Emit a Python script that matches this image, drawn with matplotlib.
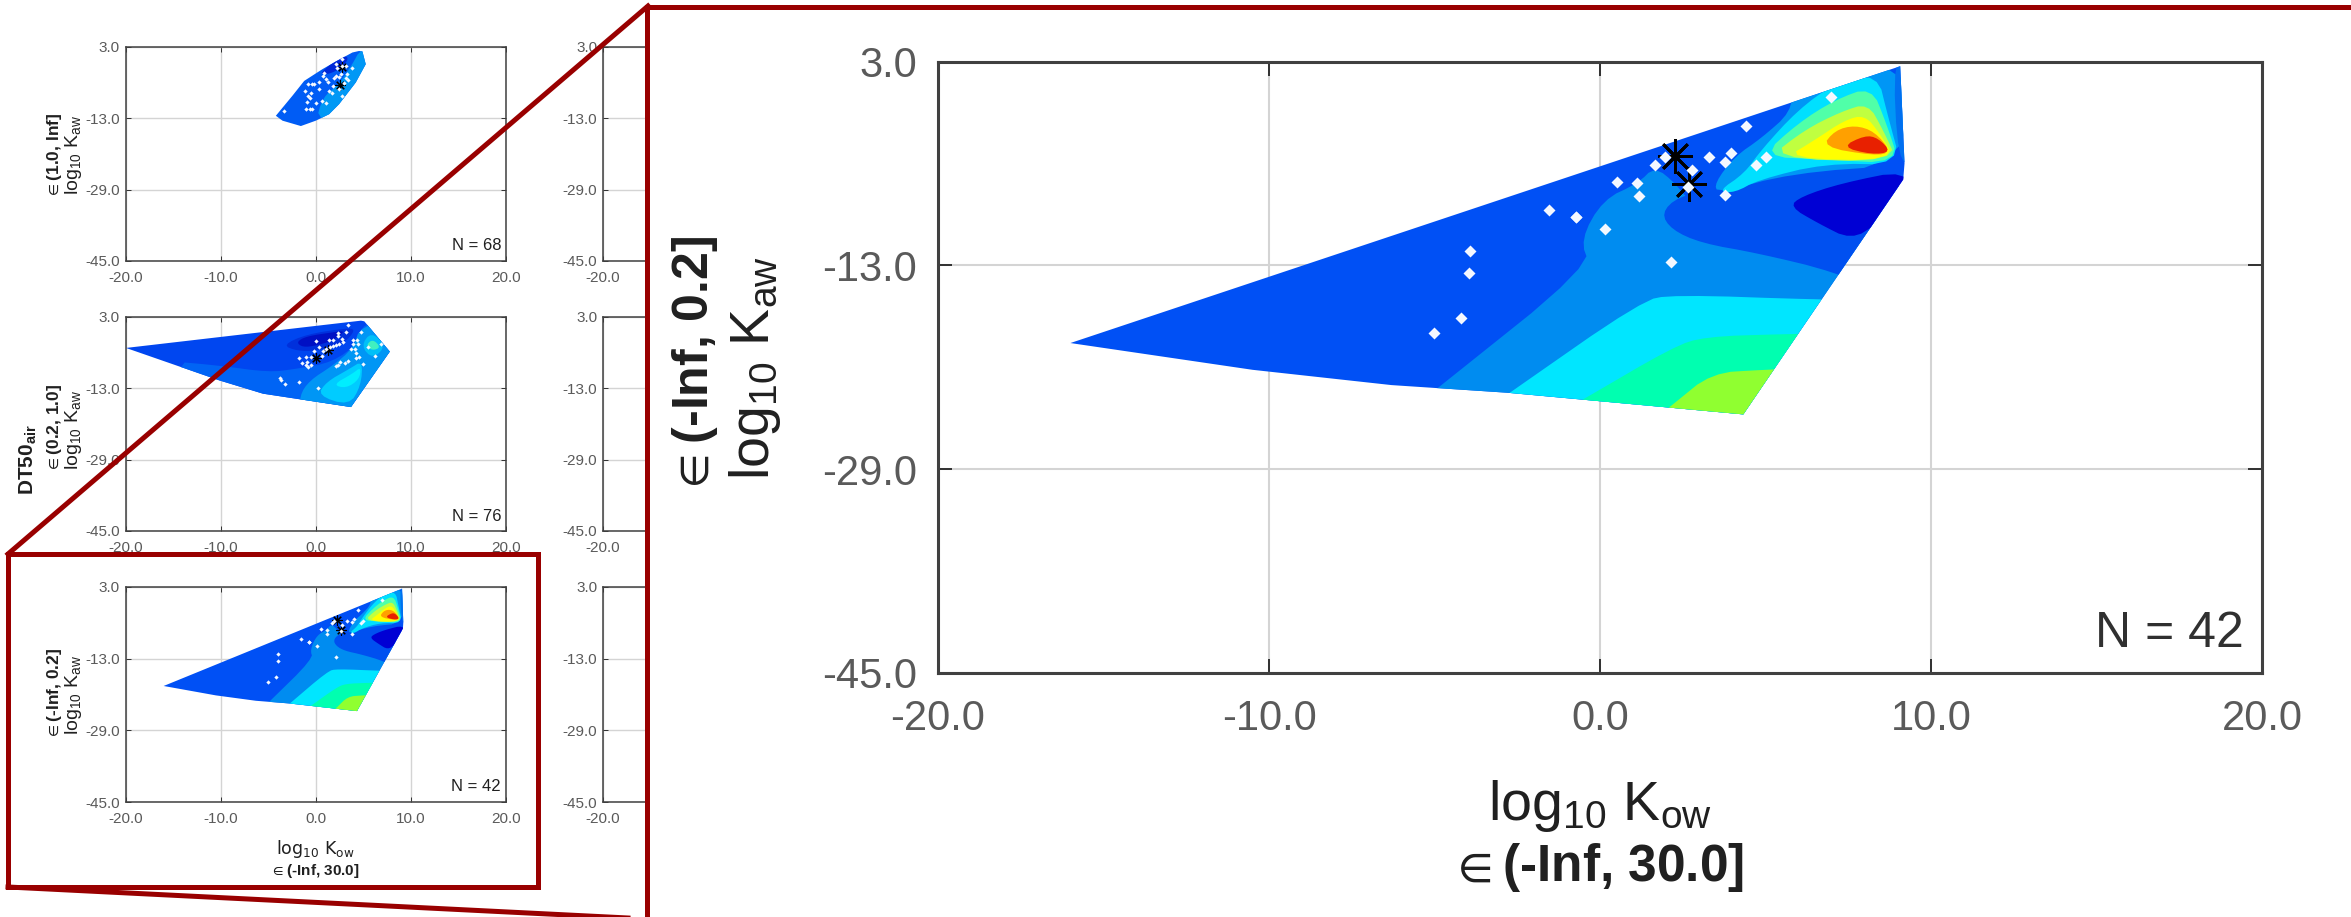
#!/usr/bin/env python3
"""Zoomed panel figure: log Kow / log Kaw space maps, DT50 air classes."""
import matplotlib
matplotlib.use("Agg")
import matplotlib.pyplot as plt
from matplotlib.lines import Line2D
from matplotlib.patches import Polygon, Rectangle

W, H = 2351, 917
RED = "#990000"

plt.rcParams["mathtext.fontset"] = "custom"
plt.rcParams["mathtext.rm"] = "Liberation Sans"
plt.rcParams["mathtext.bf"] = "Liberation Sans:bold"
plt.rcParams["mathtext.default"] = "regular"

X_TICKS = [-20, -10, 0, 10, 20]
Y_TICKS = [3, -13, -29, -45]
X_LABEL = r"log$_{10}$ K$_{ow}$"
Y_LABEL = r"log$_{10}$ K$_{aw}$"

# --- top panel, eps (1.0, Inf]
P1_OUTER = [(3.85, 1.66), (4.55, 2.0), (4.9, 1.9), (5.25, -0.96), (4.2, -5.06), (2.45, -9.9),
            (1.4, -12.15), (0, -13.6), (-1.57, -14.8), (-3.5, -13.6), (-4.2, -12.5),
            (-2.45, -8.0), (-1.22, -4.7), (0.7, -2.07), (2.1, -0.36)]
P1_LIGHT = [(0, -14), (0.7, -8.4), (2.45, -5.4), (3.85, -0.96), (4.72, 2.5), (7, 2.5), (7, -14)]
P1_DARK = [(0.35, -3.2), (1.75, -0.58), (2.8, 0.9), (3.5, 0.54), (2.8, -1.7), (1.4, -3.2)]
P1_BANDS = [P1_LIGHT, P1_DARK]
P1_COLORS = ["#0098F5", "#0028D8"]
P1_BASE = "#005CF5"
P1_KOW = [-3.32, -1.05, -0.6, -0.35, 0, -0.9, -0.63, -0.87, -1.12, -0.52, -0.77, -0.42, -0.24,
          0.35, 0.35, 0.7, 1.05, 0.8, 0.87, 1.05, 1.33, 1.4, 1.75, 1.92, 2.1, 1.82, 2.45, 2.62,
          2.17, 2.2, 2.73, 2.8, 3.2, 2.97, 3.32, 3.43, 2.8, 3.85, 3.15, 2.45]
P1_KAW = [-11.4, -11.03, -10.9, -11.03, -9.69, -9.39, -8.57, -8.04, -6.93, -7.5, -5.43, -5.28,
          -5.43, -6.55, -4.84, -9.16, -9.69, -3.57, -2.82, -4.31, -4.84, -6.93, -7.3, -3.94,
          -3.57, -5.8, -3.79, -3.19, -0.96, -1.85, 0.16, -1.33, -1.33, -5.06, -3.19, -4.54,
          -8.04, -1.85, -4.09, -6.55]
P1_STAR_KOW = [2.59, 2.8]
P1_STAR_KAW = [-5.66, -1.55]

# --- middle panel, eps (0.2, 1.0]
P2_OUTER = [(-19.96, -3.94), (4.75, 2.18), (5.1, 2.03), (7.78, -4.76), (3.7, -17.2),
            (-5.55, -14.2), (-10.1, -11.25)]
P2_MID = [(-16, -6.78), (-10.1, -7.9), (-4.96, -9.4), (-2.06, -8.64), (1.78, -7.15), (4.57, -2.67),
          (4.92, 1.8), (9, 2), (9, -20), (-5.5, -30)]
P2_LIGHT = [(-1.71, -14.6), (-0.66, -11.25), (1.78, -7.9), (3.87, -4.16), (4.75, 1.2), (9, 2),
            (9, -20), (-1.7, -20)]
P2_CYAN = [(0.2, -14.6), (1.08, -11.6), (3.53, -8.64), (4.92, -6.78), (4.75, -12.4), (3.5, -16.9)]
P2_CORE = [(1.78, -12.2), (3.87, -9.7), (4.75, -8.2), (4.57, -11), (3.18, -13)]
P2_RIGHT = [(4.75, -3.5), (5.82, -0.3), (7.4, -3.5), (5.97, -6.4)]
P2_GREEN = [(5.27, -3.42), (5.97, -1.93), (6.84, -3.79), (5.97, -4.54)]
P2_SHADE = [(-3.5, -3.3), (-1.01, -0.9), (3.18, 0.5), (4.2, 0.2), (3.0, -2.9), (0.03, -4.6),
            (-2.0, -4.6)]
P2_DARK = [(-2.06, -2.67), (-1.01, -1.33), (1.78, -0.43), (3.18, -0.06), (1.78, -2.3), (0.03, -3.42),
           (-1.36, -3.79)]
P2_BANDS = [P2_MID, P2_LIGHT, P2_CYAN, P2_CORE, P2_RIGHT, P2_GREEN, P2_SHADE, P2_DARK]
P2_COLORS = ["#0064F5", "#0096F5", "#00CCFF", "#00EEFF", "#00C0F8", "#40F0C0", "#0030DC", "#0010C4"]
P2_BASE = "#0046F0"
P2_KOW = [3.35, 4.75, 2.3, 3.18, 2.3, 1.78, 1.36, 2.76, 2.9, 2.48, 2.13, 1.78, 1.5, 1.08, 0.73,
          0.03, 0.38, -0.21, 0.66, 3.87, 4.29, 3.87, 4.4, 3.7, 4.15, 4.22, 5.45, 6.84, 6.25, 4.57,
          4.22, 5.0, 3.35, 3.1, 2.55, 2.3, 2.13, -0.49, -1.01, -1.78, -1.47, -0.94, -0.49, -0.84,
          -1.01, -3.8, -3.7, -3.28, -1.78, 0.21]
P2_KAW = [1.21, -0.43, -0.58, -0.43, -1.33, -2.07, -2.07, -1.93, -2.67, -3.04, -3.27, -3.57, -3.79,
          -4.16, -4.54, -2.3, -3.79, -4.69, -5.66, -2.07, -2.07, -3.04, -3.04, -4.16, -4.16, -5.06,
          -3.79, -3.04, -5.66, -6.03, -6.25, -7.52, -6.78, -7.37, -7.15, -7.75, -7.9, -6.03, -6.03,
          -6.18, -7.37, -7.15, -7.67, -8.27, -7.75, -10.66, -11.1, -12.0, -11.6, -12.9]
P2_STAR_KOW = [0, 1.33]
P2_STAR_KAW = [-6.18, -4.39]

# --- bottom panel (also the enlarged one), eps (-Inf, 0.2]
P3_OUTER = [(-16.0, -19.1), (9.07, 2.63), (9.2, -5.0), (9.16, -6.27), (4.33, -24.7), (-2.8, -23.0),
            (-6.3, -22.4), (-10.5, -21.2)]
P3_B1 = [(-7.5, -28), (-5.03, -22.9), (-0.3, -13.07), (-0.59, -10.98), (0.09, -7.84), (1.15, -6.56),
         (1.65, -5.25), (2.3, -6.6), (3.0, -9.0), (10, -8), (10, -30), (-7.5, -30)]
P3_CYAN = [(-5.8, -28.6), (-2.81, -23.15), (1.25, -15.8), (2.21, -15.3), (6.65, -15.7), (10, -15.8),
           (10, -30), (-5.8, -30)]
P3_MINT = [(-3.5, -28), (-0.49, -23.5), (2.21, -19.4), (3.17, -18.6), (5.49, -18.4), (8, -18.3),
           (8, -30), (-3.5, -30)]
P3_LIME = [(0.5, -27.5), (2.21, -23.9), (3.37, -21.45), (4.91, -21.2), (7, -21.0), (7, -30),
           (0.5, -30)]
P3_BLOB = [(1.85, -8.9), (2.36, -7.6), (3.46, -7.08), (5.78, -5.77), (9.4, -5.1), (9.4, -16),
           (7.09, -13.5), (4.77, -12.05), (3.06, -11.26), (2.16, -10.2)]
P3_DARK = [(5.73, -8.39), (6.08, -7.6), (7.29, -6.56), (9.3, -5.5), (9.3, -8), (8.4, -9.7),
           (7.59, -11), (6.59, -9.7)]
P3_UPPER = [(5.78, -0.94), (4.87, -3.03), (4.07, -4.46), (3.46, -6.55), (3.56, -7.34), (5.78, -5.77),
            (9.3, -5.1), (9.3, 3.5), (5.78, 1)]
P3_EDGE = [(8.85, 3.5), (9.5, 3.5), (9.5, -4.9), (9.0, -4.9)]
P3_HOT1 = [(3.56, -7.2), (4.37, -5.77), (4.87, -3.94), (5.98, -0.8), (7.09, 1.29), (8.38, 2.07),
           (8.7, -1.3), (9.1, -5.1), (6.79, -5.0), (4.77, -6.3), (4.07, -7.3)]
P3_HOT2 = [(4.87, -4.46), (5.98, -1.85), (7.09, -0.02), (8.2, 1.03), (8.65, -1.85), (9.05, -5.0),
           (6.79, -4.7)]
P3_HOT3 = [(5.08, -4.6), (6.18, -2.37), (7.29, -0.93), (8.1, -0.28), (8.55, -2.37), (9.0, -4.9)]
P3_HOT4 = [(5.58, -4.6), (6.49, -3.16), (7.39, -1.6), (8.0, -1.2), (8.45, -2.63), (8.95, -4.8)]
P3_HOT5 = [(6.7, -3.7), (7.1, -2.4), (7.7, -2.0), (8.3, -2.5), (8.8, -4.1), (8.3, -4.4)]
P3_HOT6 = [(7.3, -3.7), (8.0, -2.8), (8.4, -3.0), (8.8, -4.1), (8.2, -4.3)]
P3_BANDS = [P3_B1, P3_CYAN, P3_MINT, P3_LIME, P3_BLOB, P3_DARK, P3_UPPER, P3_EDGE, P3_HOT1, P3_HOT2,
            P3_HOT3, P3_HOT4, P3_HOT5, P3_HOT6]
P3_COLORS = ["#008CF0", "#00E6FF", "#00FFB0", "#90FF30", "#0050F0", "#0000D4", "#0096F5", "#0070F0",
             "#00E0FF", "#50FFA8", "#C0FF40", "#FFFF00", "#FFA000", "#E82000"]
P3_BASE = "#0050F5"
P3_KOW = [6.99, 4.40, 3.97, 3.77, 3.28, 2.79, 5.0, 4.72, 2.66, 3.77, 1.95, 1.67, 0.51, 1.13, 1.18,
          -0.72, 0.14, 2.16, -1.55, -0.74, -3.93, -3.95, -4.2, -5.03]
P3_KAW = [0.19, -2.03, -4.2, -4.86, -4.52, -5.51, -4.52, -5.12, -6.82, -7.47, -4.52, -5.12, -6.48,
          -6.56, -7.55, -9.22, -10.14, -12.7, -8.68, -9.2, -11.9, -13.6, -17.1, -18.3]
P3_STAR_KOW = [2.26, 2.68]
P3_STAR_KAW = [-4.41, -6.64]


def fx(px):
    return px / W


def fy(py):
    return 1 - py / H


def round_corners(verts, passes=2):
    """Chaikin corner cutting, the contour bands have soft corners."""
    for _ in range(passes):
        out = []
        for i, (x0, y0) in enumerate(verts):
            x1, y1 = verts[(i + 1) % len(verts)]
            out.append((0.75 * x0 + 0.25 * x1, 0.75 * y0 + 0.25 * y1))
            out.append((0.25 * x0 + 0.75 * x1, 0.25 * y0 + 0.75 * y1))
        verts = out
    return verts


def add_axes(fig, left, right, top, bottom, z, x_labels=None):
    ax = fig.add_axes([fx(left), fy(bottom), (right - left) / W, (bottom - top) / H])
    ax.set_zorder(z)
    ax.set_xlim(-20, 20)
    ax.set_ylim(-45, 3)
    ax.set_xticks(X_TICKS)
    ax.set_yticks(Y_TICKS)
    ax.set_xticklabels(x_labels or [f"{v:.1f}" for v in X_TICKS])
    ax.set_yticklabels([f"{v:.1f}" for v in Y_TICKS])
    ax.set_axisbelow(True)
    return ax


def style_axes(ax, big):
    tick_font = ["Liberation Sans"] if big else ["Liberation Sans Narrow", "Liberation Sans"]
    ax.grid(True, color="#d4d4d4", lw=1.5 if big else 1.0)
    ax.tick_params(direction="in", top=True, right=True, color="#303030",
                   length=10 if big else 3.5, width=1.4 if big else 0.7,
                   labelcolor="#5a5a5a", labelsize=30 if big else 11)
    ax.tick_params(axis="x", pad=19 if big else 7)
    ax.tick_params(axis="y", pad=15 if big else 4)
    for lab in ax.get_xticklabels() + ax.get_yticklabels():
        lab.set_family(tick_font)
    for s in ax.spines.values():
        s.set_color("#404040")
        s.set_linewidth(2.2 if big else 1.1)


def draw_map(ax, outer, base, bands, colors, kow, kaw, star_kow, star_kaw, big):
    shape = Polygon(outer, closed=True, fc=base, ec="none", zorder=2)
    ax.add_patch(shape)
    for verts, c in zip(bands, colors):
        p = Polygon(round_corners(verts), closed=True, fc=c, ec="none", zorder=2.1)
        ax.add_patch(p)
        p.set_clip_path(shape)
    ax.plot(star_kow, star_kaw, ls="none", marker=(8, 2, 0), color="black",
            ms=25 if big else 7.5, mew=2.0 if big else 0.8, zorder=3)
    ax.plot(kow, kaw, ls="none", marker="D", color="#f4f8ff", mec="none",
            ms=6 if big else 2.2, zorder=4)


def panel_text(fig, x, y, s, size, family="Liberation Sans", bold=False, rot=0, z=4):
    fig.text(fx(x), fy(y), s, fontsize=size, rotation=rot, ha="center", va="center", zorder=z,
             family=[family, "DejaVu Sans"], fontweight="bold" if bold else "normal",
             color="#202020")


def main():
    fig = plt.figure(figsize=(W / 100, H / 100), dpi=100)

    # left column
    a1 = add_axes(fig, 125.6, 506, 46.5, 261, 1)
    a2 = add_axes(fig, 125.6, 506, 317, 531, 1)
    a3 = add_axes(fig, 125.6, 506, 587, 802, 3)
    draw_map(a1, P1_OUTER, P1_BASE, P1_BANDS, P1_COLORS, P1_KOW, P1_KAW, P1_STAR_KOW, P1_STAR_KAW, False)
    draw_map(a2, P2_OUTER, P2_BASE, P2_BANDS, P2_COLORS, P2_KOW, P2_KAW, P2_STAR_KOW, P2_STAR_KAW, False)
    draw_map(a3, P3_OUTER, P3_BASE, P3_BANDS, P3_COLORS, P3_KOW, P3_KAW, P3_STAR_KOW, P3_STAR_KAW, False)
    for ax, n in zip([a1, a2, a3], [68, 76, 42]):
        style_axes(ax, False)
        ax.text(0.987, 0.07, f"N = {n}", transform=ax.transAxes, ha="right", va="center",
                fontsize=12, color="#202020", family=["Liberation Sans Narrow", "Liberation Sans"],
                zorder=6)

    # second column, only the left edge shows beside the zoom box
    for top, bottom in [(46.5, 261), (317, 531), (587, 802)]:
        col2 = add_axes(fig, 603, 984, top, bottom, 1, x_labels=["-20.0", "", "", "", ""])
        style_axes(col2, False)

    # left labels
    panel_text(fig, 54, 156, r"$\in$(1.0, Inf]", 12.5, bold=True, rot=90)
    panel_text(fig, 74, 155, Y_LABEL, 14, rot=90)
    panel_text(fig, 28, 460, r"DT50$_{\mathbf{air}}$", 15, bold=True, rot=90)
    panel_text(fig, 54, 428, r"$\in$(0.2, 1.0]", 12.5, bold=True, rot=90)
    panel_text(fig, 74, 430, Y_LABEL, 14, rot=90)
    panel_text(fig, 54, 694, r"$\in$(-Inf, 0.2]", 12.5, bold=True, rot=90)
    panel_text(fig, 74, 695, Y_LABEL, 14, rot=90)
    panel_text(fig, 315, 849, X_LABEL, 12.5, family="Liberation Sans Narrow")
    panel_text(fig, 315, 871, r"$\in$(-Inf, 30.0]", 11, bold=True)

    # small box and the connector lines
    fig.add_artist(Rectangle((fx(8), fy(887)), 530 / W, 333 / H, transform=fig.transFigure,
                             fc="white", ec=RED, lw=3.6, zorder=2))
    for x0, y0, x1, y1 in [(8, 554, 648, 6), (8, 887, 648, 919)]:
        fig.add_artist(Line2D([fx(x0), fx(x1)], [fy(y0), fy(y1)], transform=fig.transFigure,
                              color=RED, lw=3.6, zorder=5))

    # zoom box, runs off the right and bottom of the page
    fig.add_artist(Rectangle((fx(646.5), fy(940)), 1800 / W, 933 / H, transform=fig.transFigure,
                             fc="white", ec=RED, lw=3.6, zorder=6))

    big = add_axes(fig, 938, 2262, 61.5, 673, 7)
    draw_map(big, P3_OUTER, P3_BASE, P3_BANDS, P3_COLORS, P3_KOW, P3_KAW, P3_STAR_KOW, P3_STAR_KAW, True)
    style_axes(big, True)
    big.text(0.986, 0.063, "N = 42", transform=big.transAxes, ha="right", va="center", fontsize=36,
             color="#303030", family="Liberation Sans", zorder=6)
    panel_text(fig, 695, 366, r"$\in$(-Inf, 0.2]", 36, bold=True, rot=90, z=8)
    panel_text(fig, 755, 368, Y_LABEL, 40, rot=90, z=8)
    panel_text(fig, 1600, 806, X_LABEL, 40, z=8)
    panel_text(fig, 1595, 868, r"$\in$(-Inf, 30.0]", 37, bold=True, z=8)

    fig.savefig("out.png", dpi=100)
    plt.close(fig)


if __name__ == "__main__":
    main()
